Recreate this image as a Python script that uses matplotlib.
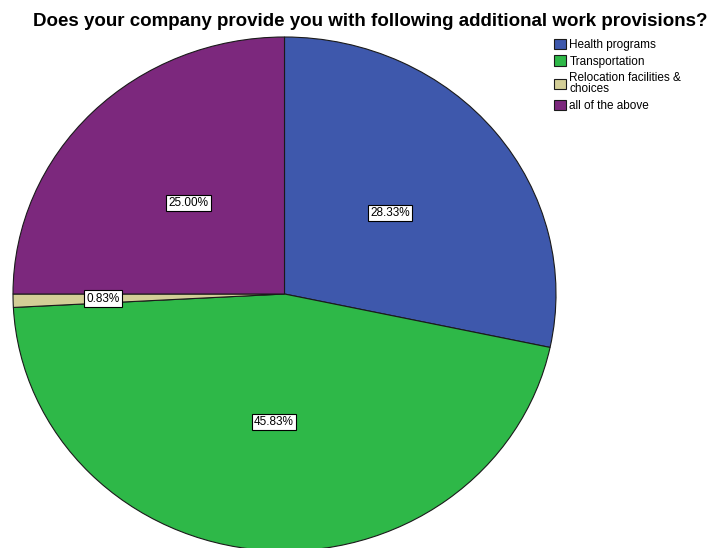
import matplotlib.pyplot as plt

plt.rcParams['font.family'] = ['Liberation Sans', 'DejaVu Sans']

# Responses (n = 120)
categories = ["Health programs", "Transportation",
              "Relocation facilities &\nchoices", "all of the above"]
counts = [34, 55, 1, 30]
colors = ["#3e58ac", "#2eb848", "#d3ce97", "#7c287d"]

title = "Does your company provide you with following additional work provisions?"

W, H = 711, 548
fig = plt.figure(figsize=(W / 100, H / 100), dpi=100)

# pie spans a slightly wide ellipse, so the axes box is the bounding box
ax = fig.add_axes([13 / W, (H - 551) / H, 543 / W, 514 / H])
wedges, texts, autotexts = ax.pie(
    counts, colors=colors, startangle=90, counterclock=False,
    autopct="%.2f%%", pctdistance=0.5,
    wedgeprops=dict(edgecolor="#1a1a1a", linewidth=0.8, clip_on=False),
    textprops=dict(fontsize=8.5, color="black"),
)
ax.set_aspect("auto")
ax.set_xlim(-1, 1)
ax.set_ylim(-1, 1)

for i, t in enumerate(autotexts):
    t.set_bbox(dict(facecolor="white", edgecolor="black", linewidth=0.8,
                    boxstyle="square,pad=0.2"))
    if counts[i] / sum(counts) < 0.05:
        # small slice: push its label further out
        x, y = t.get_position()
        t.set_position((x * 0.67 / 0.5, y * 0.67 / 0.5))

fig.text(370 / W, 1 - 21 / H, title, ha="center", va="center",
         fontsize=13.5, fontweight="bold")

leg = fig.legend(wedges, categories, loc="upper left",
                 bbox_to_anchor=(554 / W, 1 - 39 / H), frameon=False,
                 fontsize=8.5, handlelength=1.0, handleheight=0.95,
                 handletextpad=0.3, labelspacing=0.36, borderpad=0,
                 borderaxespad=0)
for t in leg.get_texts():
    t.set_linespacing(0.95)

fig.savefig("out.png", dpi=100)
